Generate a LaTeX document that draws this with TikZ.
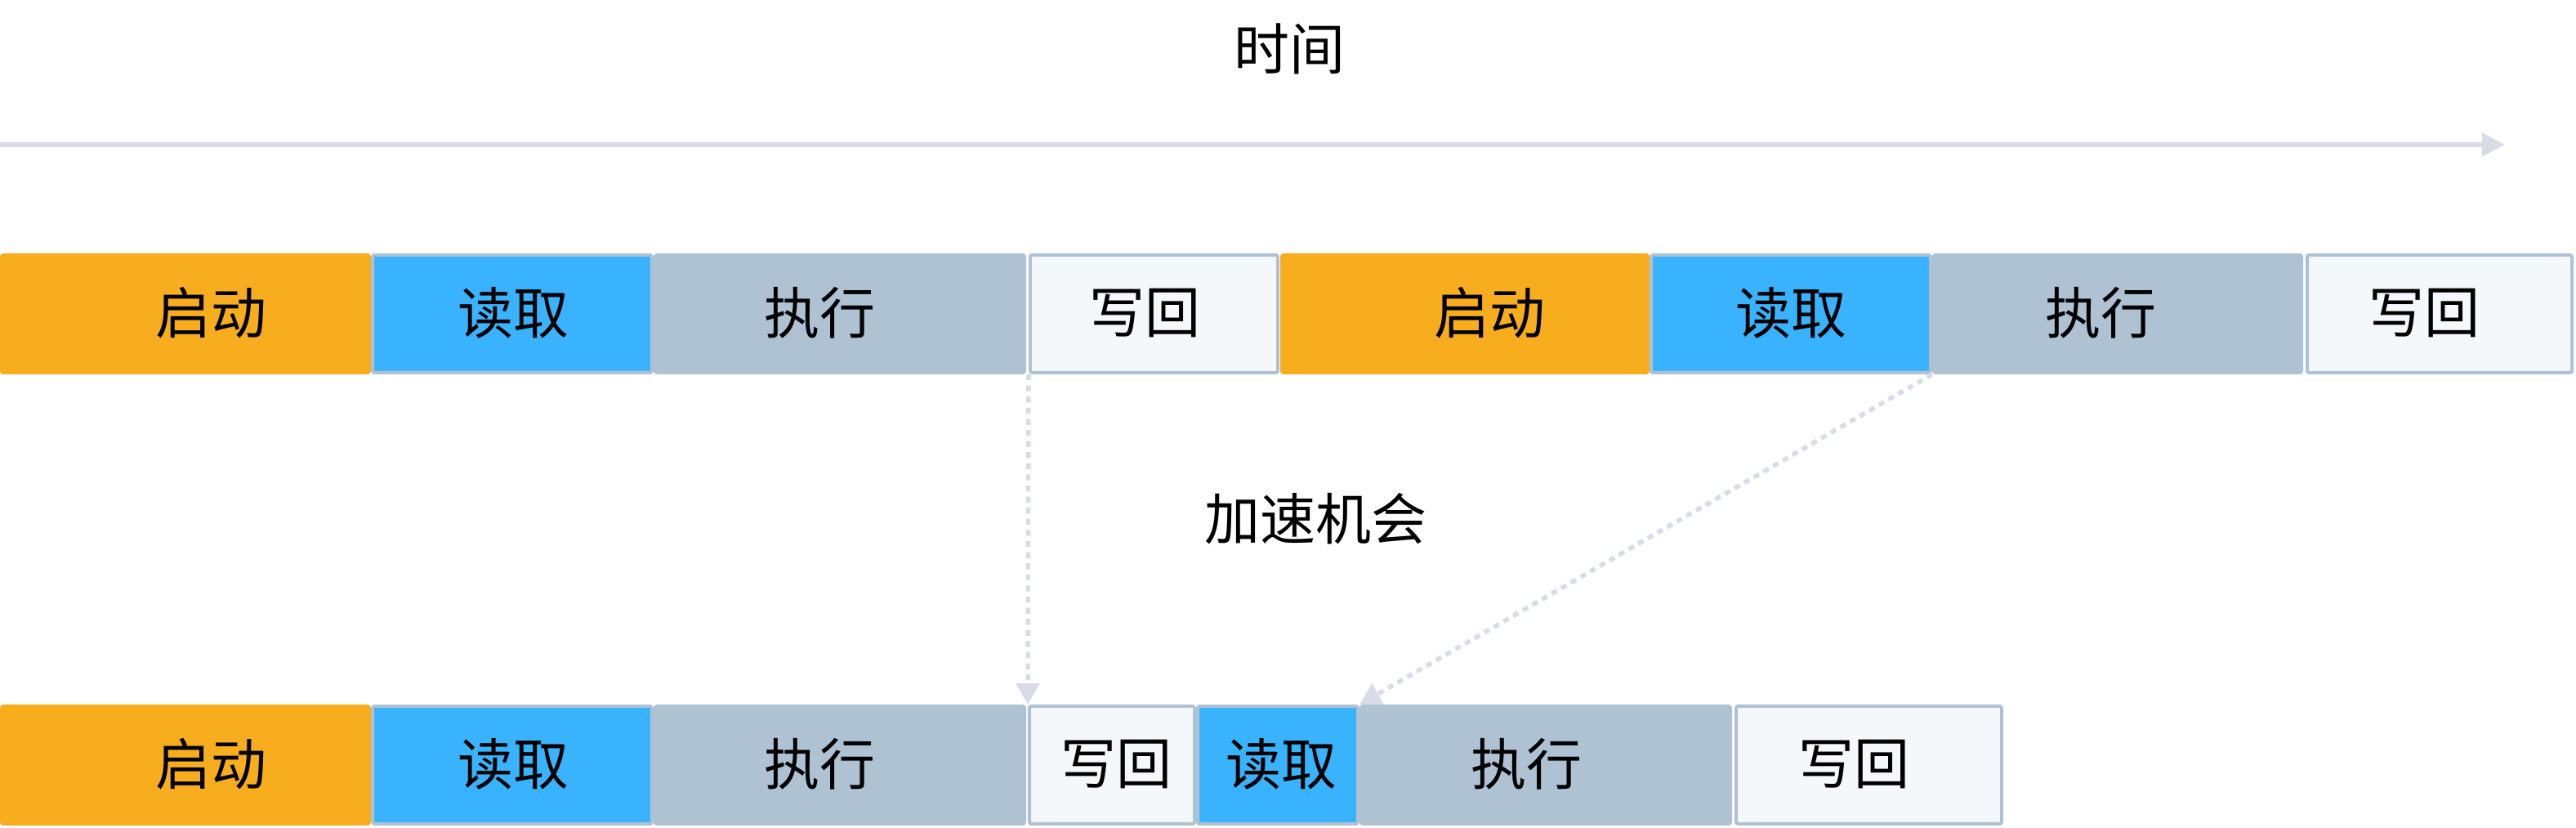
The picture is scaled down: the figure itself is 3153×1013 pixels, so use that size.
\documentclass[tikz,border=0pt]{standalone}
\usepackage{fontspec}
\setmainfont{Noto Sans CJK SC}
\usetikzlibrary{arrows.meta}
\definecolor{cOrange}{HTML}{F8AD1F}
\definecolor{cBlue}{HTML}{3AB3FE}
\definecolor{cGray}{HTML}{AFC2D4}
\definecolor{cWhite}{HTML}{F5F8FA}
\definecolor{cArrow}{HTML}{D9DCE6}
\begin{document}
\begin{tikzpicture}[x=0.25pt,y=-0.25pt,
  stage/.style={rectangle, line width=1pt, inner sep=0pt, minimum height=36pt, rounded corners=0.6pt},
  startbox/.style={stage, fill=cOrange, draw=cOrange},
  readbox/.style={stage, fill=cBlue, draw=cGray},
  execbox/.style={stage, fill=cGray, draw=cGray},
  writebox/.style={stage, fill=cWhite, draw=cGray},
  lbl/.style={font=\fontsize{17pt}{20pt}\selectfont, text=black, inner sep=0pt},
  timeline/.style={cArrow, line width=1.3pt, -{Triangle[length=7pt,width=7pt]}},
  gain/.style={cArrow, line width=1.4pt, dash pattern=on 1.8pt off 1.6pt, -{Triangle[length=6.5pt,width=7pt]}}
]
\useasboundingbox (0,0) rectangle (3153,1013);

% time axis
\coordinate (ts) at (0,177);
\coordinate (te) at (3066,177);
\draw[timeline] (ts) -- (te);
\node[lbl] (time) at (1578,60) {时间};

% top row
\node[startbox, minimum width=112.5pt] (a1) at (227,384) {};
\node[readbox, minimum width=85.5pt] (a2) at (627,384) {};
\node[execbox, minimum width=113pt] (a3) at (1028,384) {};
\node[writebox, minimum width=75.75pt] (a4) at (1412.5,384) {};
\node[startbox, minimum width=112pt] (a5) at (1793,384) {};
\node[readbox, minimum width=85.5pt] (a6) at (2192,384) {};
\node[execbox, minimum width=112.5pt] (a7) at (2592,384) {};
\node[writebox, minimum width=81pt] (a8) at (2986,384) {};

\node[lbl] (ta1) at (258,383) {启动};
\node[lbl] (ta2) at (628,383) {读取};
\node[lbl] (ta3) at (1003,383) {执行};
\node[lbl] (ta4) at (1401,383) {写回};
\node[lbl] (ta5) at (1823,383) {启动};
\node[lbl] (ta6) at (2192,383) {读取};
\node[lbl] (ta7) at (2571,383) {执行};
\node[lbl] (ta8) at (2967,383) {写回};

% bottom row
\node[startbox, minimum width=112.5pt] (b1) at (227,936) {};
\node[readbox, minimum width=85.5pt] (b2) at (627,936) {};
\node[execbox, minimum width=113pt] (b3) at (1028,936) {};
\node[writebox, minimum width=50.5pt] (b4) at (1361,936) {};
\node[readbox, minimum width=49pt] (b5) at (1564,936) {};
\node[execbox, minimum width=113pt] (b6) at (1892,936) {};
\node[writebox, minimum width=81.25pt] (b7) at (2287.5,936) {};

\node[lbl] (tb1) at (258,935) {启动};
\node[lbl] (tb2) at (628,935) {读取};
\node[lbl] (tb3) at (1003,935) {执行};
\node[lbl] (tb4) at (1366,935) {写回};
\node[lbl] (tb5) at (1568,935) {读取};
\node[lbl] (tb6) at (1868,935) {执行};
\node[lbl] (tb7) at (2269,935) {写回};

% speed-up
\node[lbl] (gainlbl) at (1610,635) {加速机会};
\draw[gain] (a4.south west) -- (b4.north west);
\draw[gain] (a7.south west) -- (b5.north east);
\end{tikzpicture}
\end{document}
